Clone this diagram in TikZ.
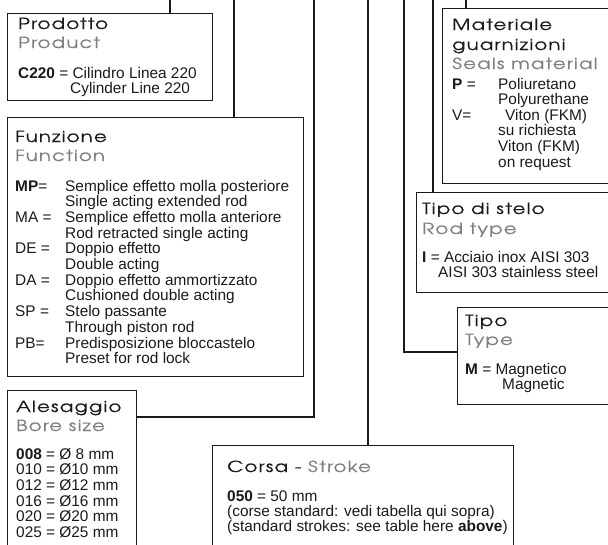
\documentclass[tikz,border=0pt]{standalone}
\usepackage{fontspec}
\setmainfont{Liberation Sans}
\newfontfamily\hf{texgyreadventor-regular.otf}[LetterSpace=7,FakeStretch=1.3,FakeBold=0.2]
\usetikzlibrary{calc}
\definecolor{ink}{HTML}{1A1A1A}
\definecolor{engray}{HTML}{808080}
\begin{document}
\begin{tikzpicture}[x=1pt,y=-1pt,
  box/.style={draw=ink, line width=1.3pt, inner sep=0pt, anchor=north west},
  wire/.style={draw=ink, line width=1.1pt},
  hd/.style={anchor=base west, inner sep=0pt, font=\hf\fontsize{15.3}{16}\selectfont, text=ink},
  hden/.style={hd, text=engray},
  tx/.style={anchor=base west, inner sep=0pt, font=\fontsize{15.4}{16}\selectfont, text=ink}]
\useasboundingbox (0,0) rectangle (608,544);
\begin{scope}
\clip (0,0) rectangle (608,544);
% boxes
\node[box, minimum width=205pt, minimum height=87pt]  (prod)  at (7,13) {};
\node[box, minimum width=296pt, minimum height=259pt] (fun)   at (7,117) {};
\node[box, minimum width=129pt, minimum height=170pt] (ales)  at (7,390) {};
\node[box, minimum width=301pt, minimum height=115pt] (corsa) at (212,445) {};
\node[box, minimum width=178pt, minimum height=175pt] (mat)   at (442,8) {};
\node[box, minimum width=204pt, minimum height=100pt] (stelo) at (416,192) {};
\node[box, minimum width=163pt, minimum height=97pt]  (tipo)  at (457,307) {};
% connector tops
\coordinate (t1) at (170,0);
\coordinate (t2) at (234,0);
\coordinate (t3) at (314,0);
\coordinate (t4) at (368,0);
\coordinate (t5) at (404,0);
\coordinate (t6) at (433,0);
\coordinate (t7) at (466,0);
\draw[wire] (t1) -- (t1 |- prod.north);
\draw[wire] (t2) -- (t2 |- fun.north);
\draw[wire] (t3) |- ($(ales.north east)+(0,27)$);
\draw[wire] (t4) -- (t4 |- corsa.north);
\draw[wire] (t5) |- ($(tipo.north west)+(0,45)$);
\draw[wire] (t6) -- (t6 |- stelo.north);
\draw[wire] (t7) -- (t7 |- mat.north);
% Prodotto
\node[hd]   (p1) at (18,29) {Prodotto};
\node[hden] (p2) at (18,48) {Product};
\node[tx]   (p3) at (18,78) {\textbf{C220} = Cilindro Linea 220};
\node[tx]   (p4) at (70,93.7) {Cylinder Line 220};
% Funzione
\node[hd]   (f1) at (15,142) {Funzione};
\node[hden] (f2) at (15,161) {Function};
\node[tx] (fl1) at (15,191)   {\textbf{MP}=};
\node[tx] (fv1) at (65,191)   {Semplice effetto molla posteriore};
\node[tx] (fv2) at (65,206.7) {Single acting extended rod};
\node[tx] (fl3) at (15,222.4) {MA =};
\node[tx] (fv3) at (65,222.4) {Semplice effetto molla anteriore};
\node[tx] (fv4) at (65,238.1) {Rod retracted single acting};
\node[tx] (fl5) at (15,253.8) {DE =};
\node[tx] (fv5) at (65,253.8) {Doppio effetto};
\node[tx] (fv6) at (65,269.5) {Double acting};
\node[tx] (fl7) at (15,285.2) {DA =};
\node[tx] (fv7) at (65,285.2) {Doppio effetto ammortizzato};
\node[tx] (fv8) at (65,300.9) {Cushioned double acting};
\node[tx] (fl9) at (15,316.6) {SP =};
\node[tx] (fv9) at (65,316.6) {Stelo passante};
\node[tx] (fv10) at (65,332.3) {Through piston rod};
\node[tx] (fl11) at (15,348) {PB=};
\node[tx] (fv11) at (65,348) {Predisposizione bloccastelo};
\node[tx] (fv12) at (65,363.7) {Preset for rod lock};
% Alesaggio
\node[hd]   (a1) at (16,412) {Alesaggio};
\node[hden] (a2) at (16,431) {Bore size};
\node[tx] (a3) at (16,459)   {\textbf{008} = Ø 8 mm};
\node[tx] (a4) at (16,474.7) {010 = Ø10 mm};
\node[tx] (a5) at (16,490.4) {012 = Ø12 mm};
\node[tx] (a6) at (16,506.1) {016 = Ø16 mm};
\node[tx] (a7) at (16,521.8) {020 = Ø20 mm};
\node[tx] (a8) at (16,537.5) {025 = Ø25 mm};
% Corsa
\node[hd] (c1) at (227,472) {Corsa - \textcolor{engray}{Stroke}};
\node[tx] (c2) at (227,501) {\textbf{050} = 50 mm};
\node[tx] (c3) at (227,516) {(corse standard: vedi tabella qui sopra)};
\node[tx] (c4) at (227,531) {(standard strokes: see table here \textbf{above})};
% Materiale
\node[hd]   (m1) at (452,30) {Materiale};
\node[hd]   (m2) at (452,50) {guarnizioni};
\node[hden] (m3) at (452,69) {Seals material};
\node[tx] (ml1) at (452,89)    {\textbf{P} =};
\node[tx] (mv1) at (498,89)    {Poliuretano};
\node[tx] (mv2) at (498,104.6) {Polyurethane};
\node[tx] (ml3) at (452,120.2) {V=};
\node[tx] (mv3) at (505,120.2) {Viton (FKM)};
\node[tx] (mv4) at (498,135.8) {su richiesta};
\node[tx] (mv5) at (498,151.4) {Viton (FKM)};
\node[tx] (mv6) at (498,167)   {on request};
% Tipo di stelo
\node[hd]   (s1) at (422,214) {Tipo di stelo};
\node[hden] (s2) at (422,234) {Rod type};
\node[tx] (s3) at (422,262)   {\textbf{I} = Acciaio inox AISI 303};
\node[tx] (s4) at (438,277.7) {AISI 303 stainless steel};
% Tipo
\node[hd]   (y1) at (465,326) {Tipo};
\node[hden] (y2) at (465,345) {Type};
\node[tx] (y3) at (465,374)   {\textbf{M} = Magnetico};
\node[tx] (y4) at (502,389.7) {Magnetic};
\end{scope}
\end{tikzpicture}
\end{document}
